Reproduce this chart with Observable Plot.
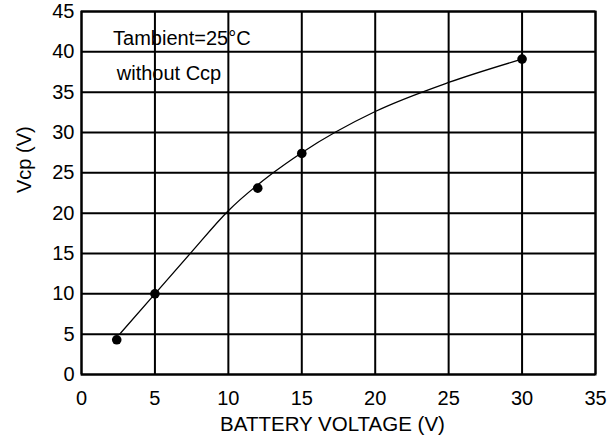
<!DOCTYPE html>
<html>
<head>
<meta charset="utf-8">
<script src="https://cdn.jsdelivr.net/npm/d3@7"></script>
<script src="https://cdn.jsdelivr.net/npm/@observablehq/plot@0.6"></script>
<style>
  html, body { margin: 0; padding: 0; background: #fff; }
  #chart svg { display: block; }
</style>
</head>
<body>
<div id="chart"></div>
<script>
// Measured points
const batteryV = [2.4, 5, 12.0, 15, 30];
const vcp = [4.3, 10, 23.1, 27.4, 39.1];

// Fitted curve
const curveX = [2.6, 5, 7.5, 10, 13.05, 15, 20, 25, 30];
const curveY = [5, 10, 15.2, 20.3, 25, 27.5, 32.6, 36.2, 39.1];

// Tick values
const xTicks = [0, 5, 10, 15, 20, 25, 30, 35];
const yTicks = [0, 5, 10, 15, 20, 25, 30, 35, 40, 45];

// Annotations
const noteText = ["Tambient=25°C", "without Ccp"];
const noteX = [2.15, 2.4];
const noteY = [41.6, 37.35];

const points = batteryV.map((x, i) => ({x, y: vcp[i]}));
const curve = curveX.map((x, i) => ({x, y: curveY[i]}));
const notes = noteText.map((t, i) => ({t, x: noteX[i], y: noteY[i]}));

const chart = Plot.plot({
  width: 613,
  height: 444,
  marginLeft: 81,
  marginRight: 18,
  marginTop: 11,
  marginBottom: 70,
  style: {fontFamily: "Arial, 'Liberation Sans', Helvetica, sans-serif", fontSize: "20px", color: "#000", background: "#fff"},
  x: {domain: [0, 35], ticks: xTicks, tickSize: 0, tickPadding: 16, label: null},
  y: {domain: [0, 45], ticks: yTicks, tickSize: 0, tickPadding: 7, label: null},
  marks: [
    Plot.gridX(xTicks, {stroke: "#000", strokeOpacity: 1, strokeWidth: 2}),
    Plot.gridY(yTicks, {stroke: "#000", strokeOpacity: 1, strokeWidth: 2}),
    Plot.frame({stroke: "#000", strokeWidth: 2}),
    Plot.line(curve, {x: "x", y: "y", curve: "monotone-x", stroke: "#000", strokeWidth: 1.3}),
    Plot.dot(points, {x: "x", y: "y", r: 4.8, fill: "#000", stroke: "none"}),
    Plot.text(notes, {x: "x", y: "y", text: "t", textAnchor: "start", fill: "#000", fontSize: 20}),
    Plot.text(["BATTERY VOLTAGE (V)"], {frameAnchor: "bottom", lineAnchor: "bottom", dy: 56, dx: -6, fill: "#000", fontSize: 20.5}),
    Plot.text(["Vcp (V)"], {frameAnchor: "left", rotate: -90, dx: -57, fill: "#000", fontSize: 20})
  ]
});
document.getElementById("chart").appendChild(chart);
</script>
</body>
</html>
